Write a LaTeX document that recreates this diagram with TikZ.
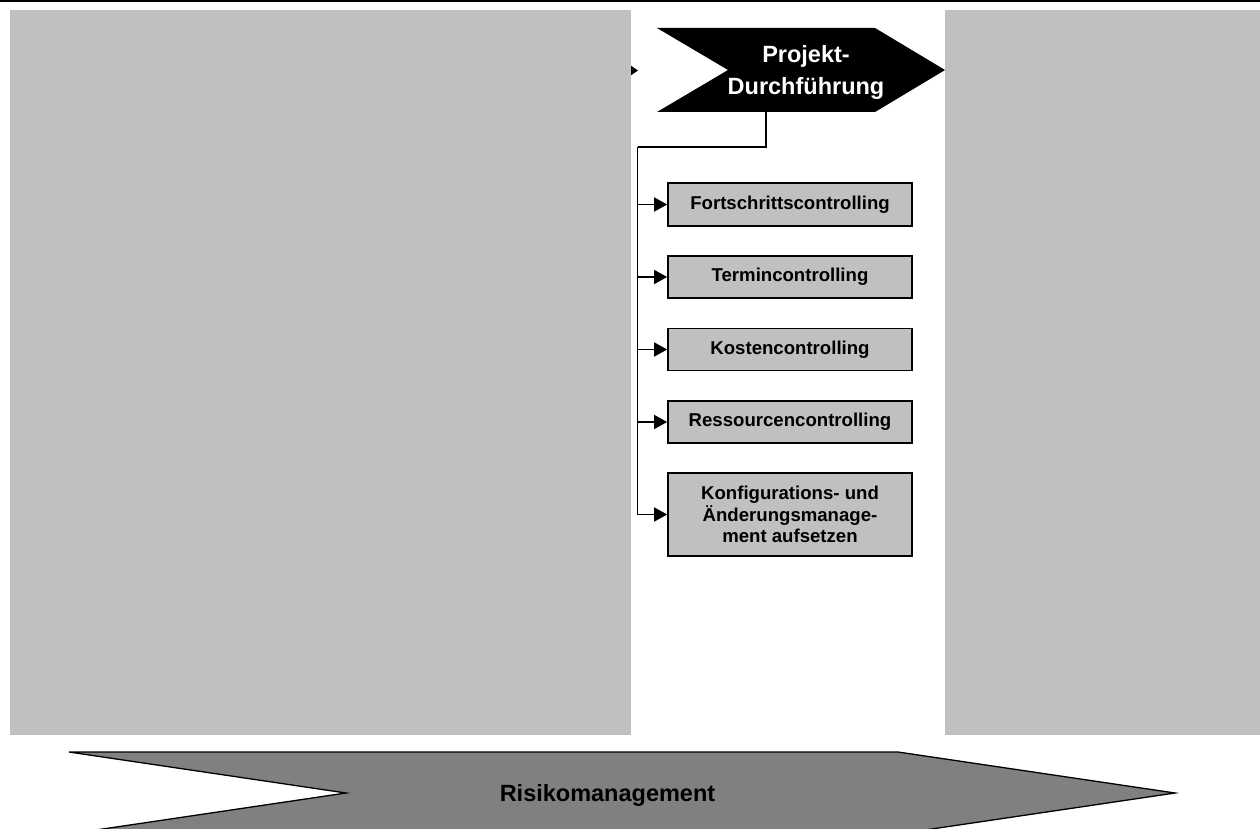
\documentclass[tikz,border=0pt]{standalone}
\usepackage{fontspec}
\setmainfont{Liberation Sans}
\usetikzlibrary{arrows.meta}
\definecolor{panelgray}{HTML}{C0C0C0}
\definecolor{riskgray}{HTML}{808080}
\tikzset{
  panel/.style={fill=panelgray, draw=none},
  taskbox/.style={draw=black, line width=1.7pt, fill=panelgray, minimum width=244pt, inner sep=2pt,
    align=center, font=\bfseries\fontsize{18.6}{21.5}\selectfont},
  conn/.style={draw=black, line width=1.5pt},
  arr/.style={conn, -{Triangle[length=13pt,width=14pt]}},
}
\begin{document}
\begin{tikzpicture}[x=1pt,y=-1pt]
\useasboundingbox (0,0) rectangle (1260,829);
\clip (0,0) rectangle (1260,829);
% top rule
\draw[line width=2pt] (0,1) -- (1260,1);
% hidden incoming arrow
\coordinate (hidsrc) at (600,70.5);
\coordinate (hidtip) at (638,70.5);
\draw[conn, -{Triangle[length=12pt,width=16pt]}] (hidsrc) -- (hidtip);
% gray panels
\fill[panel] (10,10) rectangle (631,735);
\fill[panel] (945,10) rectangle (1260,735);
% chevron
\fill[black] (657,28) -- (875,28) -- (945,70) -- (875,112) -- (657,112) -- (728,70) -- cycle;
\node[text=white, align=center, font=\bfseries\fontsize{23.5}{32}\selectfont] (pd) at (806,72) {Projekt-\\Durchführung};
\coordinate (chevbot) at (766,112);
\coordinate (jn) at (637.5,147);
% boxes
\node[taskbox, minimum height=43pt] (b1) at (790,204.5) {Fortschrittscontrolling};
\node[taskbox, minimum height=42pt] (b2) at (790,277) {Termincontrolling};
\node[taskbox, minimum height=42pt] (b3) at (790,349.5) {Kostencontrolling};
\node[taskbox, minimum height=42pt] (b4) at (790,422) {Ressourcencontrolling};
\node[taskbox, minimum height=83pt] (b5) at (790,514.5) {Konfigurations- und\\Änderungsmanage-\\ment aufsetzen};
% connectors
\draw[conn] (chevbot) |- (jn);
\draw[arr] (jn) |- (b1.west);
\draw[arr] (jn) |- (b2.west);
\draw[arr] (jn) |- (b3.west);
\draw[arr] (jn) |- (b4.west);
\draw[arr] (jn) |- (b5.west);
% risk management arrow
\draw[fill=riskgray, draw=black, line width=1.3pt] (69,752) -- (898,752) -- (1175,793) -- (898,834) -- (69,834) -- (346,793) -- cycle;
\node[font=\bfseries\fontsize{23.5}{28}\selectfont] (risk) at (607.5,795) {Risikomanagement};
\end{tikzpicture}
\end{document}
